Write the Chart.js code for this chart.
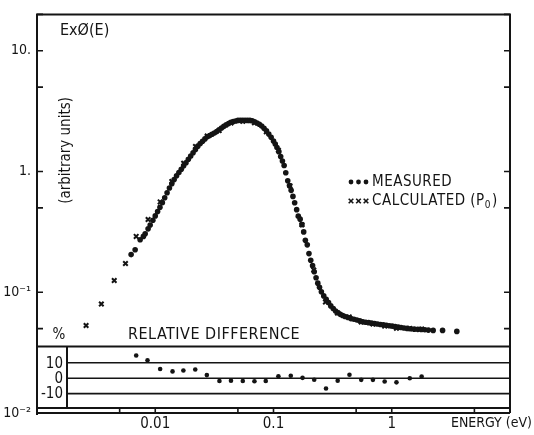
<!DOCTYPE html>
<html>
<head>
<meta charset="utf-8">
<script src="https://cdn.jsdelivr.net/npm/chart.js@4.4.1/dist/chart.umd.min.js"></script>
<style>
  html, body { margin: 0; padding: 0; background: #fff; }
  #wrap { width: 534px; height: 435px; position: relative; }
</style>
</head>
<body>
<div id="wrap"><canvas id="spectrum"></canvas></div>
<script>
// values (energy in eV, E x phi(E) in arbitrary units)
const measuredE = [
  0.00625, 0.00676, 0.00745, 0.00794, 0.00822, 0.0087, 0.00906, 0.00955, 0.0100,
  0.01047, 0.01096, 0.01148, 0.01202, 0.01259, 0.01318, 0.0138, 0.01445, 0.01514, 0.01585,
  0.0166, 0.01738, 0.0182, 0.01905, 0.01995, 0.02089, 0.02188, 0.02291, 0.02399, 0.02512,
  0.0263, 0.02754, 0.02884, 0.0302, 0.03162, 0.03311, 0.03467, 0.03631, 0.03802, 0.03981,
  0.04169, 0.04365, 0.04571, 0.04786, 0.05012, 0.05248, 0.05495, 0.05754, 0.06026, 0.0631,
  0.06607, 0.06918, 0.07244, 0.07586, 0.07943, 0.08318, 0.0871, 0.0912, 0.0955,
  0.100, 0.1035, 0.107, 0.111, 0.115, 0.119, 0.123, 0.127, 0.132, 0.1365,
  0.141, 0.146, 0.151, 0.157, 0.162, 0.168, 0.174, 0.180, 0.186, 0.193,
  0.1995, 0.2065, 0.214, 0.221, 0.229, 0.237, 0.245, 0.254, 0.266, 0.279,
  0.292, 0.305, 0.320, 0.335, 0.351, 0.367, 0.385, 0.403, 0.427, 0.452,
  0.479, 0.507, 0.537, 0.569, 0.603, 0.638, 0.676, 0.716, 0.759, 0.804,
  0.851, 0.902, 0.955, 1.01, 1.07, 1.135, 1.20, 1.27, 1.35, 1.445,
  1.55, 1.66, 1.78, 1.905, 2.04, 2.24, 2.69, 3.55
];
const measuredV = [
  0.205, 0.225, 0.272, 0.290, 0.305, 0.335, 0.361, 0.395, 0.429,
  0.466, 0.506, 0.552, 0.607, 0.667, 0.730, 0.791, 0.857, 0.923, 0.980,
  1.045, 1.114, 1.183, 1.262, 1.343, 1.429, 1.524, 1.622, 1.706, 1.782,
  1.862, 1.936, 1.986, 2.037, 2.084, 2.143, 2.218, 2.291, 2.366, 2.432,
  2.495, 2.56, 2.59, 2.62, 2.65, 2.66, 2.65, 2.66, 2.65, 2.65,
  2.63, 2.58, 2.52, 2.46, 2.38, 2.28, 2.17, 2.04, 1.92,
  1.79, 1.69, 1.58, 1.46, 1.33, 1.22, 1.12, 0.977, 0.838, 0.766,
  0.698, 0.622, 0.551, 0.483, 0.427, 0.403, 0.363, 0.316, 0.269, 0.247,
  0.209, 0.184, 0.166, 0.148, 0.132, 0.119, 0.110, 0.101, 0.0933, 0.0875,
  0.0822, 0.0771, 0.0733, 0.0700, 0.0676, 0.0656, 0.0641, 0.0630, 0.0617, 0.0605,
  0.0597, 0.0589, 0.0579, 0.0570, 0.0564, 0.0560, 0.0555, 0.0550, 0.0546, 0.0541,
  0.0537, 0.0533, 0.0528, 0.0524, 0.0519, 0.0514, 0.0511, 0.0506, 0.0502, 0.0499,
  0.0495, 0.0493, 0.0491, 0.0489, 0.0486, 0.0483, 0.0483, 0.0474
];

const calcE = [0.0026, 0.0035, 0.0045, 0.0056, 0.0069, 0.0087, 0.011, 0.0138, 0.0174, 0.0219,
  0.0275, 0.0347, 0.0437, 0.055, 0.069, 0.087, 0.110, 0.138, 0.174, 0.219,
  0.275, 0.347, 0.437, 0.552, 0.693, 0.871, 1.096, 1.42, 1.79];
const calcV = [0.053, 0.080, 0.125, 0.173, 0.29, 0.40, 0.56, 0.826, 1.17, 1.61,
  1.97, 2.18, 2.52, 2.60, 2.53, 2.13, 1.50, 0.76, 0.362, 0.153,
  0.083, 0.0673, 0.0625, 0.0568, 0.0546, 0.0524, 0.0504, 0.0501, 0.0496];

// relative difference, percent
const diffE = [0.0069, 0.0086, 0.011, 0.0140, 0.0173, 0.0218, 0.0273, 0.0349, 0.0437, 0.055,
  0.069, 0.086, 0.110, 0.140, 0.176, 0.221, 0.278, 0.349, 0.439, 0.552,
  0.693, 0.871, 1.096, 1.42, 1.79];
const diffPct = [14.7, 11.6, 6.0, 4.4, 5.0, 5.6, 2.0, -1.8, -1.6, -1.8,
  -2.0, -1.8, 1.2, 1.6, 0.2, -1.0, -6.7, -1.6, 2.2, -1.1,
  -1.1, -2.2, -2.7, 0.0, 1.1];

const xTicks = [0.005, 0.01, 0.05, 0.1, 0.5, 1, 5];
const xTickLabels = { 0.01: '0.01', 0.1: '0.1', 1: '1' };
const yTicks = [0.01, 0.05, 0.1, 0.5, 1, 5, 10, 20];
const yTickLabels = { 0.01: '10\u207B\u00B2', 0.1: '10\u207B\u00B9', 1: '1.', 10: '10.' };
const diffTicks = [10, 0, -10];

// look
const INK = '#141414';
const FONT = "'DejaVu Sans Condensed', 'Liberation Sans Narrow', sans-serif";
const diffPanel = { top: 20.6, bottom: -19.4 };

function pairs(xs, ys) {
  return xs.map((x, i) => ({ x: x, y: ys[i] }));
}

// frame with inward ticks, difference panel and the lettering of the plate
const paper = {
  id: 'paper',
  beforeDatasetsDraw(chart) {
    const { ctx, chartArea: a } = chart;
    const yr = chart.scales.yr;
    const top = yr.getPixelForValue(diffPanel.top);
    const bottom = yr.getPixelForValue(diffPanel.bottom);
    const inner = a.left + 30;
    ctx.save();
    ctx.strokeStyle = INK;
    ctx.lineWidth = 2;
    ctx.beginPath();
    ctx.moveTo(a.left, top); ctx.lineTo(a.right, top);
    ctx.moveTo(a.left, bottom); ctx.lineTo(a.right, bottom);
    ctx.moveTo(inner, top); ctx.lineTo(inner, bottom);
    ctx.stroke();
    ctx.lineWidth = 1.6;
    ctx.beginPath();
    diffTicks.forEach(v => {
      const py = yr.getPixelForValue(v);
      ctx.moveTo(inner, py); ctx.lineTo(a.right, py);
    });
    ctx.stroke();

    ctx.fillStyle = INK;
    ctx.font = '15px ' + FONT;
    ctx.textAlign = 'right';
    ctx.textBaseline = 'middle';
    diffTicks.forEach(v => ctx.fillText(String(v), inner - 4, yr.getPixelForValue(v) + 1));
    ctx.textAlign = 'center';
    ctx.fillText('%', a.left + 22, top - 11);
    ctx.textAlign = 'left';
    ctx.font = '16px ' + FONT;
    ctx.letterSpacing = '0.5px';
    ctx.fillText('RELATIVE DIFFERENCE', a.left + 91, top - 12);
    ctx.restore();
  },
  afterDraw(chart) {
    const { ctx, chartArea: a } = chart;
    const x = chart.scales.x, y = chart.scales.y;
    ctx.save();
    ctx.strokeStyle = INK;
    ctx.lineWidth = 2;
    ctx.beginPath();
    ctx.moveTo(a.left, a.bottom + 2); ctx.lineTo(a.left, a.top);
    ctx.lineTo(a.right, a.top); ctx.lineTo(a.right, a.bottom);
    ctx.moveTo(a.left, a.bottom); ctx.lineTo(a.right, a.bottom);
    ctx.stroke();
    ctx.lineWidth = 1.6;
    ctx.beginPath();
    yTicks.forEach(v => {
      const py = y.getPixelForValue(v);
      ctx.moveTo(a.left, py); ctx.lineTo(a.left + 6, py);
      ctx.moveTo(a.right, py); ctx.lineTo(a.right - 6, py);
    });
    xTicks.forEach(v => {
      const px = x.getPixelForValue(v);
      ctx.moveTo(px, a.bottom); ctx.lineTo(px, a.bottom - 5);
    });
    ctx.stroke();

    ctx.fillStyle = INK;
    ctx.font = '16px ' + FONT;
    ctx.textBaseline = 'middle';
    ctx.textAlign = 'left';
    ctx.fillText('Ex\u00D8(E)', a.left + 23, a.top + 16);

    ctx.save();
    ctx.translate(a.left + 29, a.top + 136);
    ctx.rotate(-Math.PI / 2);
    ctx.textAlign = 'center';
    ctx.font = '15px ' + FONT;
    ctx.fillText('(arbitrary units)', 0, 0);
    ctx.restore();

    // legend
    const measured = chart.data.datasets[1];
    const calculated = chart.data.datasets[0];
    const lx = 351, ly = 182;
    for (let i = 0; i < 3; i++) {
      ctx.beginPath();
      ctx.arc(lx + i * 7.5, ly, 2.4, 0, Math.PI * 2);
      ctx.fill();
      const cx = lx + i * 7.5, cy = ly + 19;
      ctx.beginPath();
      ctx.moveTo(cx - 2.3, cy - 2.3); ctx.lineTo(cx + 2.3, cy + 2.3);
      ctx.moveTo(cx + 2.3, cy - 2.3); ctx.lineTo(cx - 2.3, cy + 2.3);
      ctx.stroke();
    }
    ctx.font = '15px ' + FONT;
    ctx.letterSpacing = '0.5px';
    ctx.fillText(measured.label, lx + 21, ly);
    const calcText = calculated.label + ' (P';
    ctx.fillText(calcText, lx + 21, ly + 19);
    const w = ctx.measureText(calcText).width;
    ctx.font = '10px ' + FONT;
    ctx.fillText('0', lx + 21 + w, ly + 23);
    const w0 = ctx.measureText('0').width;
    ctx.font = '15px ' + FONT;
    ctx.fillText(')', lx + 22 + w + w0, ly + 19);

    ctx.letterSpacing = '0px';
    ctx.font = '14px ' + FONT;
    ctx.textAlign = 'right';
    ctx.fillText('ENERGY (eV)', 532, a.bottom + 10);
    ctx.restore();
  }
};

new Chart(document.getElementById('spectrum'), {
  type: 'scatter',
  data: {
    datasets: [
      {
        label: 'CALCULATED',
        data: pairs(calcE, calcV),
        pointStyle: 'crossRot',
        pointRadius: 3.2,
        borderColor: INK,
        borderWidth: 2,
        order: 0
      },
      {
        label: 'MEASURED',
        data: pairs(measuredE, measuredV),
        pointRadius: 2.8,
        pointBorderWidth: 0,
        backgroundColor: INK,
        borderColor: INK,
        order: 1
      },
      {
        label: 'RELATIVE DIFFERENCE',
        data: pairs(diffE, diffPct),
        yAxisID: 'yr',
        pointRadius: 2.3,
        pointBorderWidth: 0,
        backgroundColor: INK,
        borderColor: INK,
        order: 2
      }
    ]
  },
  options: {
    responsive: true,
    maintainAspectRatio: false,
    animation: false,
    events: [],
    layout: { padding: { top: 12, right: 24, left: 0, bottom: 0 } },
    plugins: { legend: { display: false }, tooltip: { enabled: false } },
    scales: {
      x: {
        type: 'logarithmic',
        min: 0.001,
        max: 10,
        grid: { display: false, drawTicks: false },
        border: { display: false },
        afterBuildTicks: s => { s.ticks = xTicks.map(v => ({ value: v })); },
        afterFit: s => { s.height = 22; },
        ticks: {
          autoSkip: false,
          maxRotation: 0,
          padding: 2,
          color: INK,
          font: { family: FONT, size: 15 },
          callback: v => xTickLabels[v] || ''
        }
      },
      y: {
        type: 'logarithmic',
        min: 0.01,
        max: 20,
        grid: { display: false, drawTicks: false },
        border: { display: false },
        afterBuildTicks: s => { s.ticks = yTicks.map(v => ({ value: v })); },
        afterFit: s => { s.width = 37; },
        ticks: {
          autoSkip: false,
          padding: 6,
          color: INK,
          font: { family: FONT, size: 14 },
          callback: v => yTickLabels[v] || ''
        }
      },
      yr: {
        type: 'linear',
        display: false,
        min: -22.6,
        max: 236.1
      }
    }
  },
  plugins: [paper]
});
</script>
</body>
</html>
